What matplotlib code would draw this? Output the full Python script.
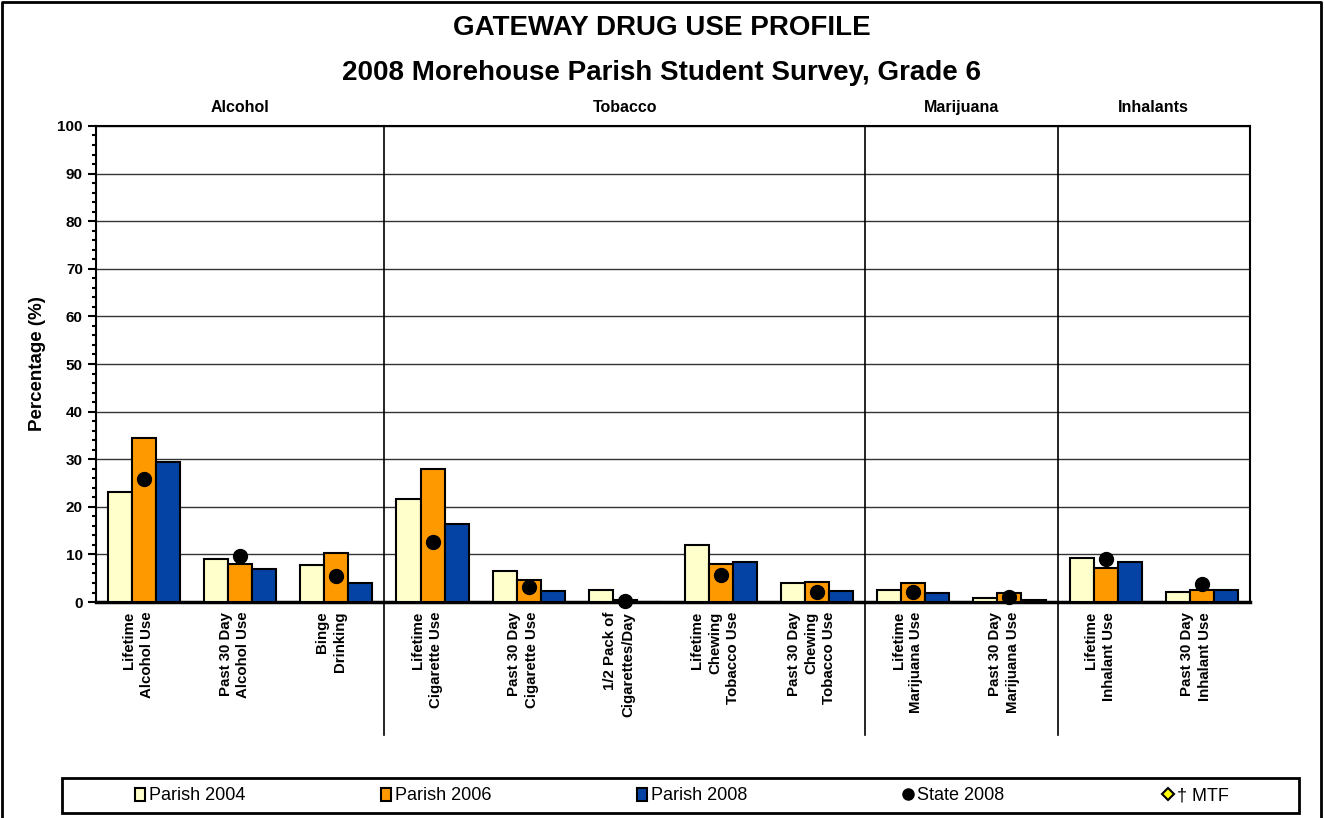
import numpy as np
import matplotlib.pyplot as plt
from matplotlib.lines import Line2D
from matplotlib.patches import Patch, Rectangle

plt.rcParams['font.family'] = ['Liberation Sans', 'DejaVu Sans']

# data
categories = ['Lifetime\nAlcohol Use', 'Past 30 Day\nAlcohol Use', 'Binge\nDrinking',
              'Lifetime\nCigarette Use', 'Past 30 Day\nCigarette Use', '1/2 Pack of\nCigarettes/Day',
              'Lifetime\nChewing\nTobacco Use', 'Past 30 Day\nChewing\nTobacco Use',
              'Lifetime\nMarijuana Use', 'Past 30 Day\nMarijuana Use',
              'Lifetime\nInhalant Use', 'Past 30 Day\nInhalant Use']
parish_2004 = [23.2, 9.0, 7.8, 21.6, 6.6, 2.5, 11.9, 3.9, 2.5, 0.8, 9.2, 2.1]
parish_2006 = [34.5, 8.0, 10.3, 28.0, 4.6, 0.4, 7.9, 4.3, 3.9, 2.0, 7.1, 2.5]
parish_2008 = [29.4, 7.0, 3.9, 16.3, 2.3, 0.1, 8.5, 2.3, 1.8, 0.5, 8.4, 2.6]
state_2008 = [25.8, 9.6, 5.5, 12.7, 3.1, 0.3, 5.7, 2.1, 2.2, 1.0, 9.0, 3.8]
groups = ['Alcohol', 'Tobacco', 'Marijuana', 'Inhalants']
group_sizes = [3, 5, 2, 2]

c2004 = '#FFFFCC'
c2006 = '#FF9900'
c2008 = '#0442A3'

fig = plt.figure(figsize=(13.24, 8.18), dpi=100)
ax = fig.add_axes([0.0725, 0.264, 0.8715, 0.582])

x = np.arange(len(categories)) + 0.5
w = 0.25
kw = dict(edgecolor='black', linewidth=1.5, zorder=3)
ax.bar(x - w, parish_2004, w, color=c2004, **kw)
ax.bar(x, parish_2006, w, color=c2006, **kw)
ax.bar(x + w, parish_2008, w, color=c2008, **kw)
ax.plot(x, state_2008, 'o', color='black', markersize=10, zorder=4, clip_on=False)

ax.set_xlim(0, len(categories))
ax.set_ylim(0, 100)
ax.set_yticks(np.arange(0, 101, 10))
ax.set_yticks(np.arange(0, 101, 2), minor=True)
ax.tick_params(axis='y', which='major', direction='out', length=6, width=1.5, labelsize=11)
ax.tick_params(axis='y', which='minor', direction='out', length=3, width=1.5)
for lab in ax.get_yticklabels():
    lab.set_fontweight('bold')
ax.yaxis.grid(True, color='#333333', linewidth=1)
ax.set_axisbelow(True)
for s in ax.spines.values():
    s.set_linewidth(1.5)
ax.spines['bottom'].set_linewidth(2.5)

ax.set_xticks(x - 0.06)
ax.set_xticklabels(categories, rotation=90, fontsize=10.8, fontweight='bold',
                   multialignment='right', va='top', ha='center', linespacing=1.35)
ax.tick_params(axis='x', length=0, pad=7)

ax.set_ylabel('Percentage (%)', fontsize=13.5, fontweight='bold', labelpad=8)

# group separators and group names
edges = np.cumsum([0] + group_sizes)
for e in edges[1:-1]:
    ax.plot([e, e], [-28, 100], color='black', linewidth=1.2, clip_on=False, zorder=2)
for g, a, b in zip(groups, edges[:-1], edges[1:]):
    ax.text((a + b) / 2, 102.3, g, ha='center', va='bottom', fontsize=11.5, fontweight='bold')

fig.text(0.5, 1 - 28 / 818, 'GATEWAY DRUG USE PROFILE', ha='center', va='center',
         fontsize=20, fontweight='bold')
fig.text(0.5, 1 - 73 / 818, '2008 Morehouse Parish Student Survey, Grade 6', ha='center',
         va='center', fontsize=20, fontweight='bold')

# legend: one entry per slot, spaced as in the reference
handles = [Patch(facecolor=c2004, edgecolor='black', linewidth=1.5),
           Patch(facecolor=c2006, edgecolor='black', linewidth=1.5),
           Patch(facecolor=c2008, edgecolor='black', linewidth=1.5),
           Line2D([], [], marker='o', color='black', linestyle='none', markersize=8),
           Line2D([], [], marker='D', markerfacecolor='#FFFF00', markeredgecolor='black',
                  markeredgewidth=1.5, linestyle='none', markersize=6)]
labels = ['Parish 2004', 'Parish 2006', 'Parish 2008', 'State 2008', '\u2020 MTF']
leg_x = [135, 381, 637, 903, 1163]
for h, l, lx in zip(handles, labels, leg_x):
    fig.legend([h], [l], loc='center left', bbox_to_anchor=(lx / 1324, 1 - 796 / 818),
               frameon=False, fontsize=13, handlelength=0.55, handleheight=0.75,
               handletextpad=0.25, borderaxespad=0, borderpad=0)
fig.patches.append(Rectangle((62 / 1324, 1 - 813 / 818), 1237 / 1324, 35 / 818,
                             transform=fig.transFigure, fill=False, edgecolor='black',
                             linewidth=2))
# outer frame (bottom edge is cut off in the reference)
fig.add_artist(Line2D([2 / 1324, 2 / 1324, 1321 / 1324, 1321 / 1324], [0, 0.997, 0.997, 0],
                      transform=fig.transFigure, color='black', linewidth=2))

fig.savefig('out.png', dpi=100)
